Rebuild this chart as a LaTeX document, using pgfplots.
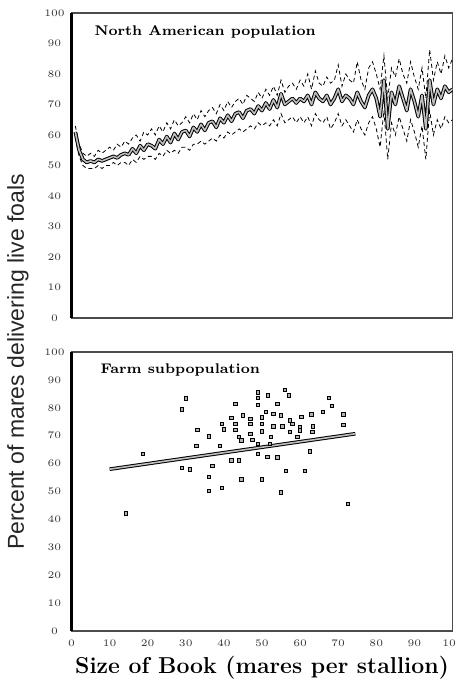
\documentclass[border=0pt]{standalone}
\usepackage{fontspec}
\usepackage{pgfplots}
\pgfplotsset{compat=1.18}
\usepackage{pgfplotstable}
\newfontfamily\arial{Liberation Sans}

% North American population: mean and upper/lower bands
\pgfplotstableread{
x mean up lo
1 61 63 59
2 55 57 53
3 52 54 50
4 51 53 49
5 51.5 54 49
6 51 53 49
7 52 55 50
8 51.5 54 49
9 52 55 50
10 52.5 56 50
11 53 55 51
12 52.5 57 50
13 53.5 56 51
14 54 58 51
15 53.5 57 50
16 55.5 59 52
17 54 60 51
18 56.5 58 53
19 55 61 52
20 57 60 53
21 56.5 62 53
22 55.5 60 52
23 58.5 63 54
24 57 61 53
25 59.5 64 55
26 57.5 62 54
27 60.5 65 55
28 58.5 63 54
29 61 64 56
30 61.5 66 56
31 59.5 64 55
32 62.5 67 57
33 61 65 57
34 63.5 68 58
35 61.5 66 57
36 64 68 58
37 64.5 69 59
38 62.5 67 58
39 65.5 70 60
40 64 68 59
41 66.5 71 61
42 64.5 69 60
43 67 71 61
44 67.5 72 62
45 65.5 70 61
46 68 73 62
47 68.5 72 63
48 67 71 62
49 69.5 74 64
50 68 72 63
51 70.5 75 64
52 68.5 73 63
53 71.5 76 65
54 69 73 63
55 73.5 78 67
56 70 74 64
57 71 76 65
58 72 77 66
59 70.5 75 64
60 72 78 66
61 71 76 64
62 73 80 66
63 70 75 63
64 74 81 67
65 72 77 65
66 71 76 64
67 73 79 66
68 70 77 62
69 72 78 64
70 75 83 67
71 71 76 63
72 73 80 65
73 72 78 63
74 70 77 61
75 74 84 65
76 71 78 62
77 69 75 60
78 73 82 64
79 75 84 66
80 72 80 62
81 66 75 56
82 78 86 68
83 62 72 52
84 74 82 64
85 70 79 60
86 76 85 66
87 72 80 62
88 68 77 58
89 75 84 65
90 71 79 61
91 66 75 56
92 73 82 63
93 62 72 52
94 78 88 68
95 70 78 60
96 75 84 65
97 72 80 62
98 76 86 66
99 74 82 64
100 75 85 65
}\natable

% Farm subpopulation: one point per farm
\pgfplotstableread{
x y
30 83.3
29 79.4
49 85.5
51.6 84.5
56 86.4
57 84.5
49 83.5
43 81.4
49 81
54 81.4
67.5 83.5
68.3 80.6
66 78.5
71.4 77.7
51 78.5
45 77.3
42 76.4
47 76.1
50 76.5
53 77.9
55 77.3
57.4 75.5
60.3 76.7
63 77.7
39.4 74.3
43 74.3
47 74.3
50 74.3
53 73.4
55.4 73.4
58 74.3
60 73.1
63.3 73.4
71.4 73.8
33 72.1
40 72.3
43 72.1
47 70.7
50 71.6
57.4 71.3
60 71.9
63.2 71.3
36 69.7
44 69.5
44.6 68.3
47.5 68.5
52.3 69.5
59.3 69.5
32.8 66.4
39 66.4
49 67
52 67
62.5 64.4
18.8 63.5
49 63.5
51.4 62.5
54 62.2
42 61.2
44 61.2
29 58.5
31 57.9
37 59.2
56.3 57.3
61.3 57.3
36 55.2
44.6 54.3
50 54.3
36 50.3
39.4 51.3
55 49.7
72.5 45.6
14.2 42.2
}\farm

\pgfplotsset{
  panel/.style={
    scale only axis, width=190.5pt,
    xmin=0, xmax=100, ymin=0, ymax=100,
    xtick={0,10,...,100}, ytick={0,10,...,100},
    major tick length=0pt,
    tick label style={font=\fontsize{5.5}{6}\selectfont, black!80},
    yticklabel style={anchor=center, xshift=-8.5pt},
    xticklabel style={anchor=center, yshift=-6pt},
    axis line style={black!70, line width=0.6pt},
    after end axis/.code={\draw[line width=1.5pt] (rel axis cs:0,0) -- (rel axis cs:0,1);},
  },
}

\begin{document}
\begin{tikzpicture}
\begin{axis}[panel, name=top, at={(0pt,0pt)}, anchor=north west,
    height=152.5pt, xticklabels={}]
\addplot[black, line width=0.4pt, dash pattern=on 2pt off 1.5pt] table[x=x,y=up]{\natable};
\addplot[black, line width=0.4pt, dash pattern=on 2pt off 1.5pt] table[x=x,y=lo]{\natable};
\addplot[black, line width=1.8pt, line join=round] table[x=x,y=mean]{\natable};
\addplot[gray!50, line width=0.8pt, line join=round] table[x=x,y=mean]{\natable};
\node[anchor=west, xshift=8pt, yshift=-9.5pt, font=\bfseries\fontsize{7}{8}\selectfont]
  at (rel axis cs:0,1) {North American population};
\end{axis}

\begin{axis}[panel, name=bot, at={(0pt,-169.5pt)}, anchor=north west,
    height=139.5pt,
    xlabel={Size of Book (mares per stallion)},
    xlabel style={at={(axis description cs:0.5,0)}, anchor=center, yshift=-18.5pt,
      font=\bfseries\fontsize{11.5}{13}\selectfont},
    ylabel={Percent of mares delivering live foals},
    ylabel style={at={(axis description cs:-0.1404,0.964)}, anchor=center,
      font=\arial\fontsize{11.5}{13}\selectfont, black!85}]
\addplot[only marks, mark=square*, mark size=0.85pt,
  mark options={draw=black, fill=gray!60, line width=0.4pt}] table[x=x,y=y]{\farm};
\addplot[black, line width=1.8pt] coordinates {(10,58) (74.5,70.7)};
\addplot[gray!50, line width=0.8pt] coordinates {(10,58) (74.5,70.7)};
\node[anchor=west, xshift=11pt, yshift=-9pt, font=\bfseries\fontsize{7}{8}\selectfont]
  at (rel axis cs:0,1) {Farm subpopulation};
\end{axis}
\pgfresetboundingbox
\path[use as bounding box] (-35.75pt,-336pt) rectangle (191.75pt,6.5pt);
\end{tikzpicture}
\end{document}
